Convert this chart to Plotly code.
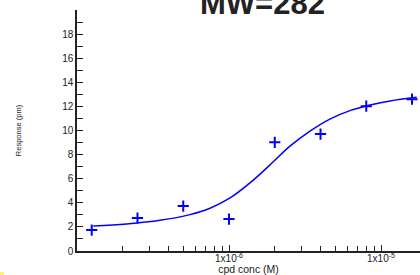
import plotly.graph_objects as go

# measured data
conc = [1.25e-7, 2.5e-7, 5e-7, 1e-6, 2e-6, 4e-6, 8e-6, 1.6e-5]
response = [1.74, 2.74, 3.73, 2.65, 9.02, 9.70, 12.02, 12.60]

# fitted curve
fit_conc = [1.28e-7, 2.12e-7, 3.52e-7, 5.53e-7, 7.50e-7, 1.016e-6, 1.374e-6,
            1.862e-6, 2.518e-6, 3.41e-6, 4.61e-6, 6.25e-6, 8.47e-6, 1.146e-5, 1.718e-5]
fit_resp = [2.08, 2.25, 2.55, 3.02, 3.55, 4.40, 5.65,
            7.15, 8.70, 9.95, 10.95, 11.65, 12.12, 12.45, 12.75]

x_major = [1e-6, 1e-5]
x_major_text = ["1x10<sup>-6</sup>", "1x10<sup>-5</sup>"]
x_minor = [m * 10.0 ** e for e in (-7, -6, -5) for m in range(1, 10)]
y_major = [0, 2, 4, 6, 8, 10, 12, 14, 16, 18]
y_minor = list(range(0, 21))

blue = "#0000FF"
fig = go.Figure()
fig.add_trace(go.Scatter(x=fit_conc, y=fit_resp, mode="lines",
                         line=dict(color=blue, width=1.5, shape="spline"),
                         hoverinfo="skip", showlegend=False))
fig.add_trace(go.Scatter(x=conc, y=response, mode="markers",
                         marker=dict(symbol="cross-thin", size=8,
                                     line=dict(color=blue, width=2)),
                         cliponaxis=False, showlegend=False))

L, T, B = 77, 10, 24
W, H = 420, 275
pw = W - L
ph = H - T - B

fig.update_layout(
    width=W, height=H,
    margin=dict(l=L, r=0, t=T, b=B, pad=0, autoexpand=False),
    paper_bgcolor="white", plot_bgcolor="white",
    font=dict(family="Liberation Sans, Arial, sans-serif", color="#222222", size=10),
    showlegend=False,
)
fig.update_xaxes(
    type="log", range=[-7, -7 + pw / 152.0], automargin=False,
    showgrid=False, zeroline=False,
    showline=True, linecolor="#222222", linewidth=1.5,
    tickmode="array", tickvals=x_major, ticktext=x_major_text,
    ticks="inside", ticklen=6, tickwidth=1.2, tickcolor="#222222",
    tickfont=dict(size=10), ticklabelstandoff=-3,
    minor=dict(tickmode="array", tickvals=x_minor, ticks="inside",
               ticklen=5, tickwidth=1.2, tickcolor="#222222", showgrid=False),
    title=dict(text="cpd conc (M)", font=dict(size=10.5), standoff=8),
)
fig.update_yaxes(
    range=[0, 20], automargin=False,
    showgrid=False, zeroline=False,
    showline=True, linecolor="#222222", linewidth=1.5,
    tickmode="array", tickvals=y_major,
    ticks="inside", ticklen=6, tickwidth=1.2, tickcolor="#222222",
    tickfont=dict(size=10),
    minor=dict(tickmode="array", tickvals=y_minor, ticks="inside",
               ticklen=6, tickwidth=1.2, tickcolor="#222222", showgrid=False),
    title=dict(text="Response (pm)", font=dict(size=7.5), standoff=40),
)

fig.add_annotation(
    text="<b>MW=282</b>", xref="paper", yref="paper",
    x=(262.5 - L) / pw, y=(H - B - 3) / ph,
    xanchor="center", yanchor="middle", showarrow=False,
    font=dict(size=31, color="#222222", family="Liberation Sans, Arial, sans-serif"),
)
fig.add_shape(type="rect", xref="paper", yref="paper",
              x0=(0 - L) / pw, x1=(4 - L) / pw,
              y0=(H - B - 275) / ph, y1=(H - B - 272) / ph,
              fillcolor="#FFF176", line=dict(width=0), layer="above")

fig.write_html("out.html", config={"displayModeBar": False},
               post_script="document.body.style.margin='0';document.body.style.overflow='hidden';")
